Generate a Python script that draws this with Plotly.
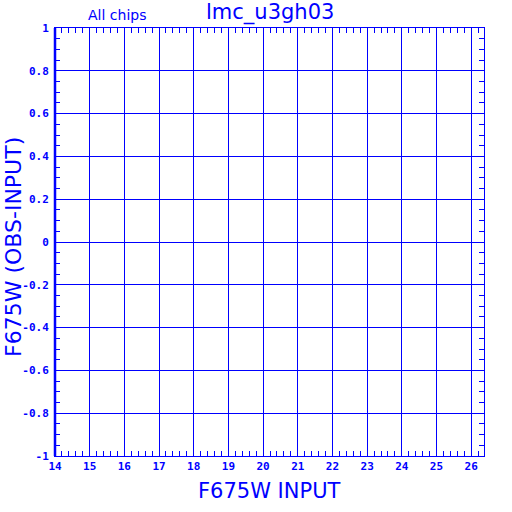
import plotly.graph_objects as go

# Data (empty chart: only axis definitions)
x_ticks = [14, 15, 16, 17, 18, 19, 20, 21, 22, 23, 24, 25, 26]
x_tick_labels = ["14", "15", "16", "17", "18", "19", "20", "21", "22", "23", "24", "25", "26"]
y_ticks = [-1, -0.8, -0.6, -0.4, -0.2, 0, 0.2, 0.4, 0.6, 0.8, 1]
y_tick_labels = ["-1", "-0.8", "-0.6", "-0.4", "-0.2", "0", "0.2", "0.4", "0.6", "0.8", "1"]
x_range = [14, 26.37]
y_range = [-1, 1]
title_text = "lmc_u3gh03"
subtitle_text = "All chips"
x_title = "F675W INPUT"
y_title = "F675W (OBS-INPUT)"

BLUE = "#0000ff"
tickfont = dict(family="DejaVu Sans Mono", size=11, color=BLUE, weight="bold")
TXT = "DejaVu Sans"

fig = go.Figure()
fig.add_trace(go.Scatter(x=[], y=[], mode="markers", showlegend=False))

fig.update_layout(
    width=512, height=512,
    margin=dict(l=55, r=28, t=28, b=56, autoexpand=False),
    paper_bgcolor="white", plot_bgcolor="white",
    showlegend=False,
    xaxis=dict(
        range=x_range, tickvals=x_ticks, ticktext=x_tick_labels,
        showgrid=True, gridcolor=BLUE, gridwidth=1,
        showline=True, linecolor=BLUE, linewidth=1, mirror="allticks",
        ticks="inside", ticklen=5, tickcolor=BLUE, tickwidth=1,
        tickfont=tickfont, zeroline=False, automargin=False,
        minor=dict(dtick=0.2, ticks="inside", ticklen=5, tickcolor=BLUE, tickwidth=1, showgrid=False),
    ),
    yaxis=dict(
        range=y_range, tickvals=y_ticks, ticktext=y_tick_labels,
        showgrid=True, gridcolor=BLUE, gridwidth=1,
        showline=True, linecolor=BLUE, linewidth=1, mirror="allticks",
        ticks="inside", ticklen=5, tickcolor=BLUE, tickwidth=1,
        tickfont=tickfont, zeroline=False, ticklabelstandoff=3, automargin=False,
        minor=dict(dtick=0.05, ticks="inside", ticklen=5, tickcolor=BLUE, tickwidth=1, showgrid=False),
    ),
    font=dict(family=TXT, color=BLUE),
)

# left axis drawn a bit thicker
fig.add_shape(type="line", xref="paper", yref="paper", x0=0, x1=0, y0=0, y1=1,
              line=dict(color=BLUE, width=2.5))

fig.add_annotation(text=title_text, xref="paper", yref="paper", x=0.5, y=1, yshift=16,
                   xanchor="center", yanchor="middle", showarrow=False,
                   font=dict(family=TXT, size=21, color=BLUE))
fig.add_annotation(text=subtitle_text, xref="paper", yref="paper", x=0.1445, y=1, yshift=13,
                   showarrow=False, xanchor="center", yanchor="middle",
                   font=dict(family=TXT, size=14, color=BLUE))
fig.add_annotation(text=x_title, xref="paper", yref="paper", x=0.5, y=0, yshift=-35,
                   xanchor="center", yanchor="middle", showarrow=False,
                   font=dict(family=TXT, size=21, color=BLUE))
fig.add_annotation(text=y_title, xref="paper", yref="paper", x=0, y=0.5, xshift=-42, yshift=-5,
                   xanchor="center", yanchor="middle", showarrow=False, textangle=-90,
                   font=dict(family=TXT, size=22, color=BLUE))

fig.write_html("out.html", config={"displayModeBar": False},
               post_script="document.body.style.margin='0';")
